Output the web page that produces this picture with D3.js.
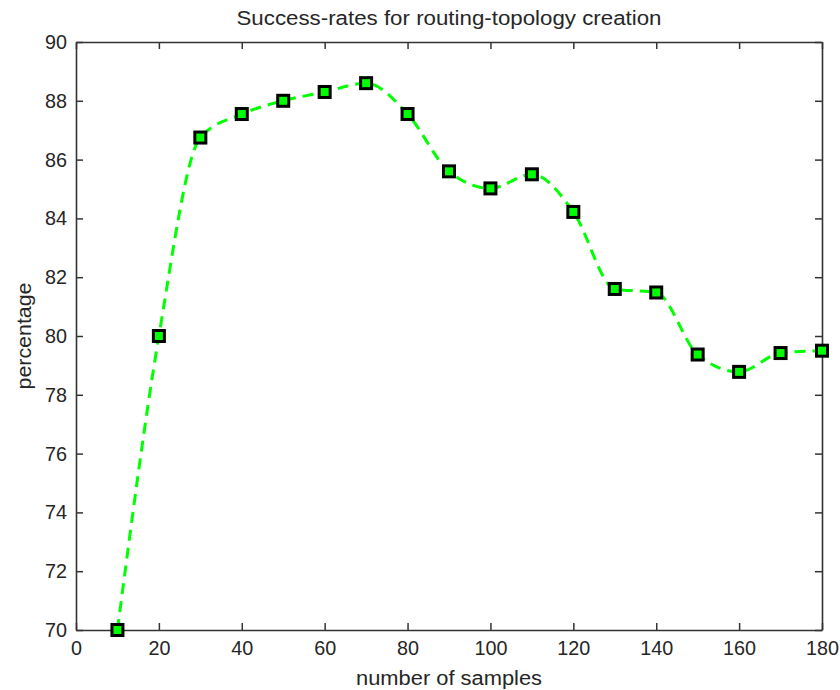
<!DOCTYPE html>
<html>
<head>
<meta charset="utf-8">
<script src="https://cdn.jsdelivr.net/npm/d3@7"></script>
<style>
  body { margin: 0; background: #fff; }
  text { font-family: "Liberation Sans", Arial, sans-serif; fill: #262626; }
</style>
</head>
<body>
<div id="chart"></div>
<script>
// data
var samples = [10, 20, 30, 40, 50, 60, 70, 80, 90, 100, 110, 120, 130, 140, 150, 160, 170, 180];
var rates = [70.0, 80.0, 86.75, 87.55, 88.0, 88.3, 88.6, 87.55, 85.6, 85.02, 85.5, 84.22, 81.6, 81.48, 79.37, 78.78, 79.42, 79.5];
var xTicks = [0, 20, 40, 60, 80, 100, 120, 140, 160, 180];
var yTicks = [70, 72, 74, 76, 78, 80, 82, 84, 86, 88, 90];

var width = 840, height = 690;
// plot box (window.top is read-only so use other names)
var padL = 76, padR = 822, padT = 42, padB = 630;

var svg = d3.select("#chart").append("svg")
    .attr("width", width)
    .attr("height", height);

var x = d3.scaleLinear().domain([0, 180]).range([padL, padR]);
var y = d3.scaleLinear().domain([70, 90]).range([padB, padT]);

// axes box with inward ticks, mirrored like matlab
var axisColor = "#333";
var xAxis = d3.axisBottom(x).tickValues(xTicks).tickSizeInner(-7).tickSizeOuter(0).tickPadding(11);
var yAxis = d3.axisLeft(y).tickValues(yTicks).tickSizeInner(-7).tickSizeOuter(0).tickPadding(9);

svg.append("g").attr("transform", "translate(0," + padB + ")").call(xAxis);
svg.append("g").attr("transform", "translate(" + padL + ",0)").call(yAxis);
svg.append("g").attr("transform", "translate(0," + padT + ")")
    .call(d3.axisTop(x).tickValues(xTicks).tickSizeInner(-7).tickSizeOuter(0).tickFormat(""));
svg.append("g").attr("transform", "translate(" + padR + ",0)")
    .call(d3.axisRight(y).tickValues(yTicks).tickSizeInner(-7).tickSizeOuter(0).tickFormat(""));

svg.selectAll(".domain").attr("stroke", axisColor).attr("stroke-width", 1.6);
svg.selectAll(".tick line").attr("stroke", axisColor).attr("stroke-width", 1.5);
svg.selectAll(".tick text")
    .style("font-family", "'Liberation Sans', Arial, sans-serif")
    .style("font-size", "20px")
    .attr("fill", "#262626")
    .attr("textLength", function(d) { return String(d).length * 11; })
    .attr("lengthAdjust", "spacingAndGlyphs");

// the dashed line, smooth without overshoot
var line = d3.line()
    .x(function(d, i) { return x(samples[i]); })
    .y(function(d) { return y(d); })
    .curve(d3.curveMonotoneX);

svg.append("path")
    .datum(rates)
    .attr("d", line)
    .attr("fill", "none")
    .attr("stroke", "#00ff00")
    .attr("stroke-width", 3)
    .attr("stroke-dasharray", "11,7");

// square markers
var ms = 11;
svg.selectAll("rect.marker")
    .data(rates)
    .enter()
    .append("rect")
    .attr("class", "marker")
    .attr("x", function(d, i) { return x(samples[i]) - ms / 2; })
    .attr("y", function(d) { return y(d) - ms / 2; })
    .attr("width", ms)
    .attr("height", ms)
    .attr("fill", "#00ff00")
    .attr("stroke", "#000")
    .attr("stroke-width", 3);

// titles
svg.append("text")
    .attr("x", (padL + padR) / 2)
    .attr("y", 25)
    .attr("text-anchor", "middle")
    .attr("font-size", 20)
    .attr("textLength", 425)
    .attr("lengthAdjust", "spacingAndGlyphs")
    .text("Success-rates for routing-topology creation");

svg.append("text")
    .attr("x", (padL + padR) / 2)
    .attr("y", 685)
    .attr("text-anchor", "middle")
    .attr("font-size", 20)
    .attr("textLength", 186)
    .attr("lengthAdjust", "spacingAndGlyphs")
    .text("number of samples");

svg.append("text")
    .attr("transform", "translate(31," + ((padT + padB) / 2) + ") rotate(-90)")
    .attr("text-anchor", "middle")
    .attr("font-size", 20)
    .attr("textLength", 107)
    .attr("lengthAdjust", "spacingAndGlyphs")
    .text("percentage");
</script>
</body>
</html>
